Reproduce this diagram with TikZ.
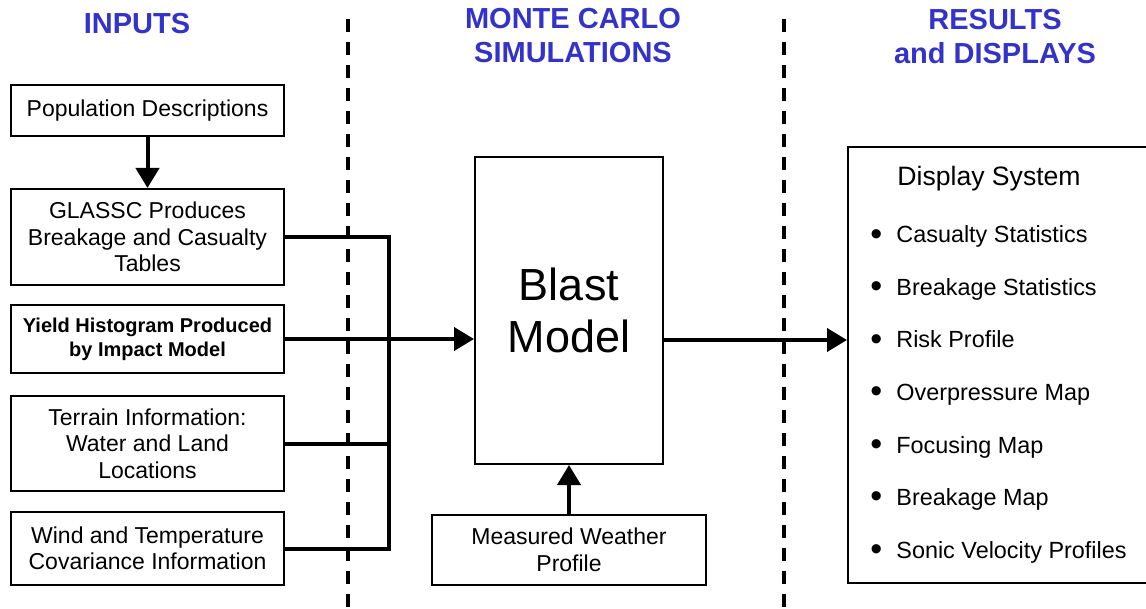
\documentclass[tikz,border=0pt]{standalone}
\usepackage{fontspec}
\setmainfont{Liberation Sans}
\usetikzlibrary{arrows.meta,positioning,calc}
\definecolor{headblue}{RGB}{51,51,204}

\begin{document}
\begin{tikzpicture}[x=0.5pt,y=-0.5pt,
box/.style={draw,line width=1pt,align=center,inner sep=0pt,font=\fontsize{11.5}{13.25}\selectfont},
inbox/.style={box,minimum width=136.5pt},
conn/.style={line width=2pt},
arr/.style={line width=2pt,-{Triangle[width=11.5pt,length=10pt]}},
sep/.style={line width=1.6pt,dash pattern=on 6.5pt off 5pt},
head/.style={text=headblue,align=center,font=\bfseries\fontsize{14.5}{17}\selectfont},
item/.style={anchor=base west,inner sep=0pt,font=\fontsize{11.7}{14}\selectfont}]
\useasboundingbox (0,0) rectangle (1146,609);
\node[head] (H1) at (137,24) {INPUTS};
\node[head] (H2) at (573,36) {MONTE CARLO\\SIMULATIONS};
\node[head] (H3) at (995,37) {RESULTS\\and DISPLAYS};
\draw[sep] (348,19)--(348,609);
\draw[sep] (784,19)--(784,609);
\node[inbox,minimum height=25.5pt] (In1) at (147.5,111) {Population Descriptions};
\node[inbox,minimum height=48pt] (In2) at (147.5,237) {GLASSC Produces\\Breakage and Casualty\\Tables};
\node[inbox,minimum height=34pt,font=\bfseries\fontsize{10}{12}\selectfont] (In3) at (147.5,339) {Yield Histogram Produced\\by Impact Model};
\node[inbox,minimum height=47.5pt] (In4) at (147.5,443.5) {Terrain Information:\\Water and Land\\Locations};
\node[inbox,minimum height=36.5pt] (In5) at (147.5,548.5) {Wind and Temperature\\Covariance Information};
\node[box,minimum width=94pt,minimum height=153.5pt,font=\fontsize{22.5}{26}\selectfont] (Blast) at (569,310.5) {Blast\\Model};
\node[box,minimum width=137pt,minimum height=35pt] (Wx) at (569,550) {Measured Weather\\Profile};
\node[box,minimum width=151pt,minimum height=218pt] (Disp) at (999,365) {};
\node[item,font=\fontsize{13.3}{16}\selectfont] (DS) at (897,186) {Display System};
\foreach \txt [count=\i] in {Casualty Statistics,Breakage Statistics,Risk Profile,Overpressure Map,Focusing Map,Breakage Map,Sonic Velocity Profiles}
  \node[item] (D\i) at (870,243+52.5*\i-52.5) {\makebox[13pt][l]{\raisebox{-1.2pt}{\scalebox{1.45}{\textbullet}}}\txt};
\coordinate (bus) at (389,340);
\draw[conn] (In2.east) -| (bus) |- (In5.east);
\draw[conn] (In4.east) -- (In4.east -| bus);
\draw[arr] (In3.east) -- (In3.east -| Blast.west);
\draw[arr] (In1.south) -- (In2.north);
\draw[arr] (Wx.north) -- (Blast.south);
\draw[arr] (Blast.east |- bus) -- (Disp.west |- bus);
\end{tikzpicture}
\end{document}
